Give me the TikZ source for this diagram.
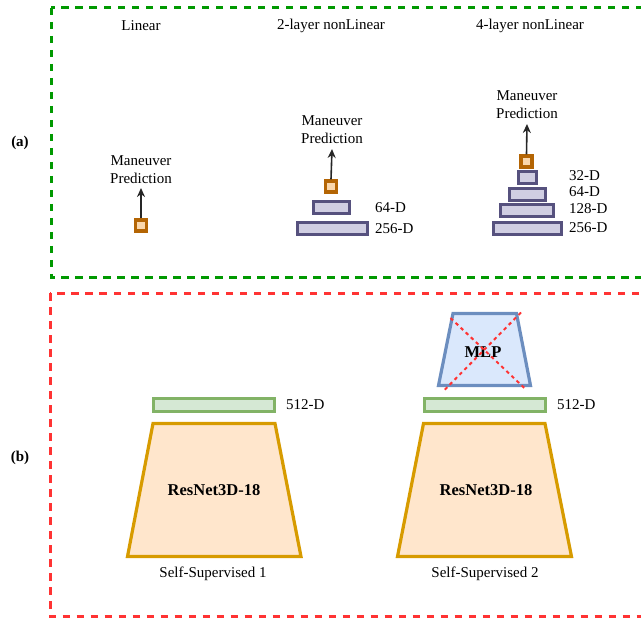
\documentclass[tikz,border=0pt]{standalone}
\usepackage{fontspec}
\setmainfont{Liberation Serif}
\usetikzlibrary{arrows.meta}
\definecolor{grn}{HTML}{009900}
\definecolor{rd}{HTML}{FF3333}
\definecolor{sqdraw}{HTML}{B46504}
\definecolor{sqfill}{HTML}{FAD7AC}
\definecolor{pdraw}{HTML}{56517E}
\definecolor{pfill}{HTML}{D0CEE2}
\definecolor{gdraw}{HTML}{82B366}
\definecolor{gfill}{HTML}{D5E8D4}
\definecolor{odraw}{HTML}{D79B00}
\definecolor{ofill}{HTML}{FFE6CC}
\definecolor{bdraw}{HTML}{6C8EBF}
\definecolor{bfill}{HTML}{DAE8FC}
\tikzset{
  txt/.style={font=\fontsize{15}{18}\selectfont, inner sep=0pt, align=center},
  lbl/.style={font=\fontsize{15}{18}\selectfont, inner sep=0pt, anchor=west},
  btxt/.style={font=\fontsize{16.5}{19}\selectfont\bfseries, inner sep=0pt},
  outsq/.style={draw=sqdraw, fill=sqfill, line width=3.2pt, minimum width=11pt, minimum height=11pt, inner sep=0pt},
  layer/.style={draw=pdraw, fill=pfill, line width=3.2pt},
  feat/.style={draw=gdraw, fill=gfill, line width=3pt},
  enc/.style={draw=odraw, fill=ofill, line width=3.2pt, line join=miter},
  mlp/.style={draw=bdraw, fill=bfill, line width=3.2pt},
  up/.style={-{Stealth[length=9pt,width=8pt]}, line width=1.6pt, draw=black!85},
  grnbox/.style={draw=grn, line width=3pt, dash pattern=on 7.5pt off 6.5pt},
  redbox/.style={draw=rd, line width=3pt, dash pattern=on 7.5pt off 6.5pt},
  cross/.style={draw=rd, line width=2pt, dash pattern=on 3.5pt off 3.5pt}
}
\begin{document}
\begin{tikzpicture}[x=1pt,y=-1pt]
\useasboundingbox (0,0) rectangle (641,620);
% boxes
\draw[grnbox] (51,8) rectangle (700,278);
\draw[redbox] (50,293.5) rectangle (700,617);
\node[txt,font=\fontsize{15}{18}\selectfont\bfseries] (la) at (20,143) {(a)};
\node[txt,font=\fontsize{15}{18}\selectfont\bfseries] (lb) at (20,458) {(b)};
% titles
\node[txt] (t1) at (141,26) {Linear};
\node[txt] (t2) at (331,26) {2-layer nonLinear};
\node[txt] (t3) at (530,26) {4-layer nonLinear};
% linear
\node[outsq] (s1) at (141,225.5) {};
\node[txt] (p1) at (141,169.5) {Maneuver\\Prediction};
\draw[up] (s1.north) -- (p1.south |- 0,188);
% 2-layer
\draw[layer] (313.5,201.5) rectangle (349.5,213.5);
\draw[layer] (297.5,222.5) rectangle (367.5,234.5);
\node[lbl] (d21) at (375,208) {64-D};
\node[lbl] (d22) at (375,228.5) {256-D};
\node[outsq] (s2) at (331,186.5) {};
\node[txt] (p2) at (332,130) {Maneuver\\Prediction};
\draw[up] (s2.north) -- (p2.south |- 0,149);
% 4-layer
\draw[layer] (518.5,171.5) rectangle (536.5,183.5);
\draw[layer] (509.5,188.5) rectangle (545.5,200.5);
\draw[layer] (500.5,204.5) rectangle (553.5,216.5);
\draw[layer] (493.5,222.5) rectangle (561.5,234.5);
\node[lbl] (d41) at (569,176) {32-D};
\node[lbl] (d42) at (569,192) {64-D};
\node[lbl] (d43) at (569,208.5) {128-D};
\node[lbl] (d44) at (569,227.5) {256-D};
\node[outsq] (s3) at (526.5,161.5) {};
\node[txt] (p3) at (527,105) {Maneuver\\Prediction};
\draw[up] (s3.north) -- (p3.south |- 0,124);
% (b) encoder 1
\draw[feat] (153.5,398.5) rectangle (274.5,411.5);
\node[lbl] (f1) at (286,404.5) {512-D};
\draw[enc] (153,423.5) -- (275,423.5) -- (301,556.5) -- (127.5,556.5) -- cycle;
\node[btxt] (r1) at (214,490) {ResNet3D-18};
\node[txt] (c1) at (213,573.5) {Self-Supervised 1};
% (b) encoder 2
\draw[feat] (424,398.5) rectangle (545.5,411.5);
\node[lbl] (f2) at (557,405) {512-D};
\draw[enc] (423.5,423.5) -- (545,423.5) -- (571.5,556.5) -- (397.5,556.5) -- cycle;
\node[btxt] (r2) at (486,490) {ResNet3D-18};
\node[txt] (c2) at (485,573.5) {Self-Supervised 2};
% MLP
\draw[mlp] (453,313.5) -- (516.5,313.5) -- (530.5,385.5) -- (438.5,385.5) -- cycle;
\node[btxt] (m) at (483,352) {MLP};
\draw[cross] (450.5,318) -- (526.5,390);
\draw[cross] (521,312.5) -- (443.5,391);
\end{tikzpicture}
\end{document}
